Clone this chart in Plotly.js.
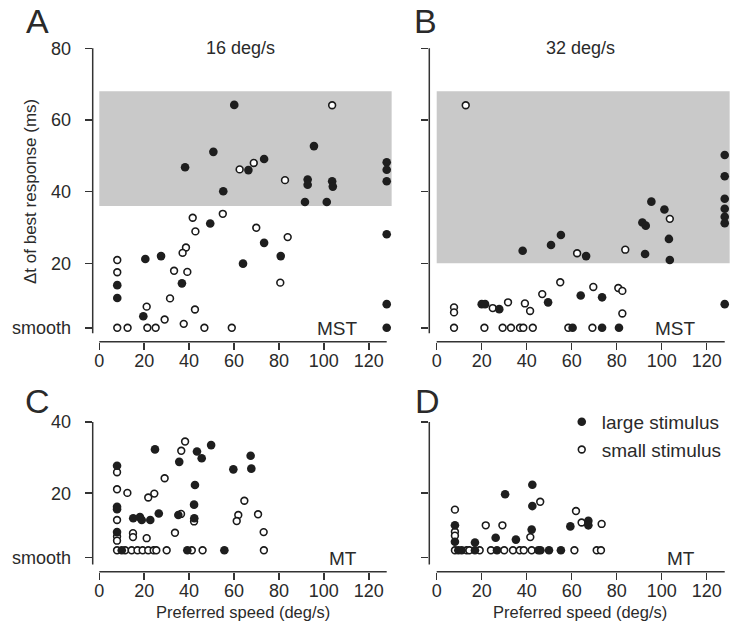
<!DOCTYPE html>
<html>
<head>
<meta charset="utf-8">
<script src="https://cdn.plot.ly/plotly-3.0.1.min.js"></script>
<style>html,body{margin:0;padding:0;background:#fff;}#chart{width:750px;height:643px;}</style>
</head>
<body>
<div id="chart"></div>
<script>
// ---------- data ----------
// Panel A: MST, 16 deg/s
var A_large_x = [60.1, 50.8, 38.2, 73.4, 66.4, 95.6, 92.8, 92.8, 103.7, 104, 91.6, 101.3, 55.2, 128, 128, 128, 49.4, 73.4, 64, 80.8, 27.5, 20.5, 36.8, 8, 8, 19.6, 128, 128, 128];
var A_large_y = [64.2, 51.1, 46.8, 49.1, 46, 52.7, 43.4, 41.9, 42.9, 41.4, 37.1, 37.1, 40.1, 48.2, 46.1, 42.9, 31.1, 25.7, 19.9, 22, 22, 21.2, 14.4, 13.9, 10.3, 5.2, 28.1, 8.6, 2];
var A_small_x = [103.7, 62.5, 68.8, 82.7, 41.6, 55, 42.8, 69.9, 83.9, 38.6, 37.1, 33.3, 39.2, 8, 8, 80.6, 31.5, 21.1, 42.6, 29.1, 37.6, 8, 12.6, 21.4, 25.1, 46.8, 59];
var A_small_y = [64.1, 46.2, 48, 43.2, 32.7, 33.8, 28.9, 29.9, 27.3, 24.4, 22.9, 17.9, 17.6, 20.9, 17.5, 14.6, 10.2, 7.9, 7.1, 4.3, 3.1, 2, 2, 2, 2, 2, 2];

// Panel B: MST, 32 deg/s
var B_large_x = [38.2, 50.8, 55.2, 66.4, 91.4, 92.9, 95.4, 101.2, 103.2, 92.6, 103.6, 128, 128, 128, 128, 128, 128, 128, 20, 21.5, 27.8, 49.5, 64, 73.5, 60.4, 73.5, 81];
var B_large_y = [23.5, 25.1, 27.9, 22, 31.4, 30.5, 37.2, 35, 26.8, 22.6, 20.9, 50.2, 44.3, 38, 35.2, 33, 31.2, 8.6, 8.6, 8.6, 7.2, 9.1, 11, 10.5, 2, 2, 2];
var B_small_x = [12.9, 62.4, 83.8, 103.6, 7.7, 7.7, 24.9, 31.7, 39.2, 41.5, 46.9, 54.9, 69.6, 80.7, 82.5, 82.5, 7.7, 21.2, 29.3, 33, 37, 38.5, 42.7, 58.5, 69.2];
var B_small_y = [64.1, 22.8, 23.8, 32.4, 7.7, 6.3, 7.5, 9.1, 8.8, 6.7, 11.4, 14.7, 13.4, 13.1, 12.3, 6.0, 2, 2, 2, 2, 2, 2, 2, 2, 2];

// Panel C: MT, 16 deg/s
var C_large_x = [24.8, 43.5, 45.6, 49.8, 35.6, 7.9, 59.7, 67.4, 67.7, 42.6, 42.2, 7.9, 7.9, 26.5, 35.2, 15.1, 18.1, 18.9, 22.7, 42.3, 7.9, 10, 39.2, 55.7];
var C_large_y = [32.3, 31.7, 29.8, 33.5, 28.8, 27.7, 26.7, 30.5, 26.9, 22.3, 16.8, 16.2, 15.5, 14.3, 13.9, 13, 13.3, 12.5, 12.5, 13, 9.1, 4, 4, 4];
var C_small_x = [38.2, 36.5, 7.9, 29.1, 7.9, 12.5, 24.5, 21.8, 64.6, 61.9, 61.2, 70.7, 36.4, 42.2, 7.9, 15, 15, 21.1, 7.9, 7.9, 33.7, 73.2, 7.9, 11.5, 14.4, 17, 19.3, 21.8, 24.2, 25.4, 30, 41.2, 46, 73.3];
var C_small_y = [34.5, 31.9, 25.9, 24.2, 21.1, 20.1, 19.9, 18.8, 17.9, 13.9, 12.2, 14.1, 14.2, 12.1, 12.5, 8.8, 7.7, 7.4, 7.9, 6.7, 8.9, 9.1, 4, 4, 4, 4, 4, 4, 4, 4, 4, 4, 4, 4];

// Panel D: MT, 32 deg/s
var D_large_x = [42.5, 30.4, 42.5, 8.1, 8.1, 17, 26.2, 35.2, 42.2, 59.4, 67.4, 67.4, 9.6, 11.1, 17, 26.8, 45.2, 46.1, 49.9, 55.2];
var D_large_y = [22.4, 19.7, 16.4, 11, 6.4, 6.2, 7.5, 7, 9.8, 10.7, 12.3, 11, 4, 4, 4, 4, 4, 4, 4, 4];
var D_small_x = [46, 8.1, 61.9, 21.8, 29.2, 64.4, 73.3, 8.1, 8.1, 41.6, 8.1, 13.3, 14.5, 19.1, 24.1, 30, 33.9, 36.9, 38.7, 42.2, 61.2, 71.1, 73];
var D_small_y = [17.6, 15.4, 15, 11, 11, 11.8, 11.4, 9.2, 8.1, 7.7, 4, 4, 4, 4, 4, 4, 4, 4, 4, 4, 4, 4, 4];

// Shaded bands (ms) for MST panels
var A_band = [36, 68];
var B_band = [20, 68];
var band_x = [0, 130.2];

// Tick labels
var x_ticks = [0, 20, 40, 60, 80, 100, 120];
var y_ticks_mst = [2, 20, 40, 60, 80];
var y_text_mst = ['smooth', '20', '40', '60', '80'];
var y_ticks_mt = [2, 20, 40];
var y_text_mt = ['smooth', '20', '40'];

// ---------- styling ----------
var FONT = 'Liberation Sans, Arial, Helvetica, sans-serif';
var INK = '#2a2a2a';
var AX = '#333333';

function smallTrace(x, y, xa, ya, show) {
  return {x: x, y: y, xaxis: xa, yaxis: ya, type: 'scatter', mode: 'markers',
    name: 'small stimulus', showlegend: show, legendrank: 2,
    marker: {size: 6.8, color: '#ffffff', line: {color: '#1a1a1a', width: 1.6}},
    hoverinfo: 'x+y'};
}
function largeTrace(x, y, xa, ya, show) {
  return {x: x, y: y, xaxis: xa, yaxis: ya, type: 'scatter', mode: 'markers',
    name: 'large stimulus', showlegend: show, legendrank: 1,
    marker: {size: 8.6, color: '#1e1e1e', line: {width: 0}},
    hoverinfo: 'x+y'};
}

var data = [
  smallTrace(A_small_x, A_small_y, 'x', 'y', false),
  largeTrace(A_large_x, A_large_y, 'x', 'y', false),
  smallTrace(B_small_x, B_small_y, 'x2', 'y2', false),
  largeTrace(B_large_x, B_large_y, 'x2', 'y2', false),
  smallTrace(C_small_x, C_small_y, 'x3', 'y3', false),
  largeTrace(C_large_x, C_large_y, 'x3', 'y3', false),
  smallTrace(D_small_x, D_small_y, 'x4', 'y4', true),
  largeTrace(D_large_x, D_large_y, 'x4', 'y4', true)
];

function xax(dom, rng, anchor) {
  return {domain: dom, range: rng, anchor: anchor, tickvals: x_ticks,
    ticks: 'outside', ticklen: 7, tickwidth: 1.5, tickcolor: AX,
    showline: false, zeroline: false, showgrid: false, ticklabelstandoff: -4,
    tickfont: {family: FONT, size: 18, color: INK}};
}
function yax(dom, rng, anchor, vals, txt, showLabels) {
  return {domain: dom, range: rng, anchor: anchor, tickvals: vals, ticktext: txt,
    ticks: 'outside', ticklen: 7, tickwidth: 1.5, tickcolor: AX,
    showline: false, zeroline: false, showgrid: false, ticklabelstandoff: 10,
    showticklabels: showLabels,
    tickfont: {family: FONT, size: 18, color: INK}};
}

var domLeft = [0.1236, 0.524];
var domRight = [0.5724, 0.9747];
var domTop = [0.4686, 0.9305];
var domBot = [0.1109, 0.3499];
var xrL = [-2.94, 130.8];
var xrR = [-3.29, 130.8];
var yrTop = [-1.88, 81.0];
var yrBot = [-2.0, 41.1];

var shapes = [];
function band(xa, ya, b) {
  shapes.push({type: 'rect', xref: xa, yref: ya, x0: band_x[0], x1: band_x[1], y0: b[0], y1: b[1],
    fillcolor: '#c9c9c9', line: {width: 0}, layer: 'below'});
}
band('x', 'y', A_band);
band('x2', 'y2', B_band);
function axLines(xa, ya, ylo, yhi) {
  shapes.push({type: 'line', xref: xa, yref: ya + ' domain', x0: 0, x1: 128, y0: 0, y1: 0,
    line: {color: AX, width: 1.5}});
  shapes.push({type: 'line', xref: xa + ' domain', yref: ya, x0: 0, x1: 0, y0: ylo, y1: yhi,
    line: {color: AX, width: 1.5}});
}
axLines('x', 'y', 0.5, 80);
axLines('x2', 'y2', 0.5, 80);
axLines('x3', 'y3', 0, 40);
axLines('x4', 'y4', 0, 40);

function ann(text, px, py, size, extra) {
  var a = {text: text, x: px / 750, y: 1 - py / 643, xref: 'paper', yref: 'paper',
    showarrow: false, xanchor: 'center', yanchor: 'middle',
    font: {family: FONT, size: size, color: INK}};
  if (extra) { for (var k in extra) a[k] = extra[k]; }
  return a;
}

var annotations = [
  ann('A', 37, 21, 34), ann('B', 425, 21, 34), ann('C', 37, 401, 34), ann('D', 427, 401, 34),
  ann('16 deg/s', 240, 48, 18), ann('32 deg/s', 580, 48, 18),
  ann('\u0394t of best response (ms)', 30, 192, 17, {textangle: -90}),
  ann('Preferred speed (deg/s)', 243, 612, 16.5), ann('Preferred speed (deg/s)', 580, 612, 16.5),
  ann('MST', 337, 328, 19), ann('MST', 675, 328, 19),
  ann('MT', 343, 558, 19), ann('MT', 681, 558, 19)
];

var layout = {
  width: 750, height: 643,
  margin: {l: 0, r: 0, t: 0, b: 0},
  paper_bgcolor: '#ffffff', plot_bgcolor: 'rgba(0,0,0,0)',
  showlegend: true,
  legend: {x: 0.749, y: 0.3733, xanchor: 'left', yanchor: 'top',
    bgcolor: 'rgba(0,0,0,0)', borderwidth: 0,
    font: {family: FONT, size: 19, color: INK}},
  xaxis: xax(domLeft, xrL, 'y'),
  yaxis: yax(domTop, yrTop, 'x', y_ticks_mst, y_text_mst, true),
  xaxis2: xax(domRight, xrR, 'y2'),
  yaxis2: yax(domTop, yrTop, 'x2', y_ticks_mst, y_text_mst, false),
  xaxis3: xax(domLeft, xrL, 'y3'),
  yaxis3: yax(domBot, yrBot, 'x3', y_ticks_mt, y_text_mt, true),
  xaxis4: xax(domRight, xrR, 'y4'),
  yaxis4: yax(domBot, yrBot, 'x4', y_ticks_mt, y_text_mt, false),
  shapes: shapes,
  annotations: annotations
};

Plotly.newPlot('chart', data, layout, {staticPlot: true, displayModeBar: false});
</script>
</body>
</html>
